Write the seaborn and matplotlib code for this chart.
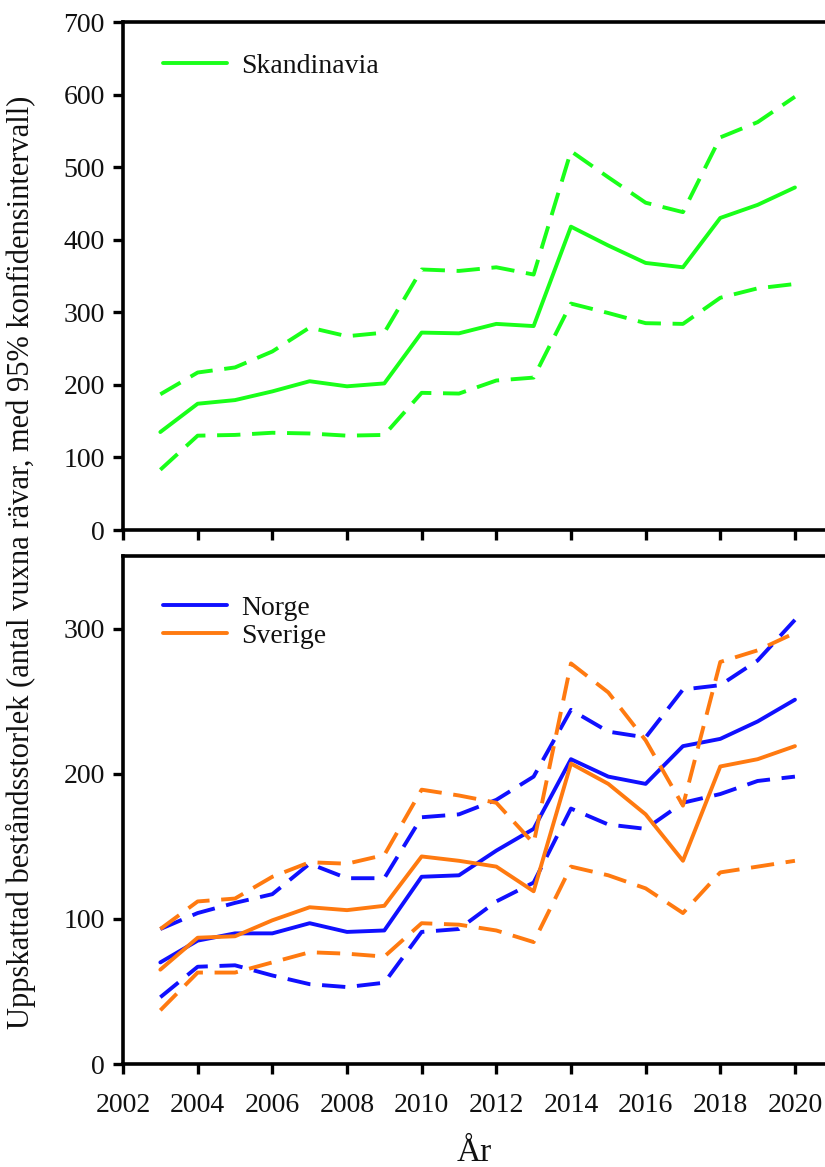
import numpy as np
import pandas as pd
import matplotlib
matplotlib.use("Agg")
import matplotlib.pyplot as plt
import seaborn as sns

years = list(range(2003, 2021))

skand_est = [135, 174, 179, 191, 205, 198, 202, 272, 271, 284, 281, 418, 392, 368, 362, 430, 448, 472]
skand_hi = [187, 217, 224, 246, 279, 267, 272, 359, 357, 362, 352, 522, 486, 451, 438, 541, 562, 597]
skand_lo = [83, 130, 131, 134, 133, 130, 131, 189, 188, 206, 210, 312, 299, 285, 284, 320, 333, 339]

norge_est = [70, 85, 90, 90, 97, 91, 92, 129, 130, 147, 162, 210, 198, 193, 219, 224, 236, 251]
norge_hi = [93, 104, 111, 117, 138, 128, 128, 170, 172, 182, 198, 244, 229, 225, 258, 261, 278, 306]
norge_lo = [46, 67, 68, 61, 55, 53, 56, 91, 93, 112, 125, 176, 165, 162, 180, 186, 195, 198]

sverige_est = [65, 87, 88, 99, 108, 106, 109, 143, 140, 136, 119, 207, 193, 172, 140, 205, 210, 219]
sverige_hi = [93, 112, 114, 129, 139, 138, 144, 189, 185, 180, 152, 276, 256, 223, 178, 277, 285, 297]
sverige_lo = [37, 63, 63, 70, 77, 76, 74, 97, 96, 92, 84, 136, 130, 121, 104, 132, 136, 140]

top_yticks = [0, 100, 200, 300, 400, 500, 600, 700]
bot_yticks = [0, 100, 200, 300]
xticks = [2002, 2004, 2006, 2008, 2010, 2012, 2014, 2016, 2018, 2020]

GREEN = "#19ff19"
BLUE = "#1010ff"
ORANGE = "#ff7a10"

sns.set_theme(style="ticks")
plt.rcParams["font.family"] = ["Liberation Serif", "DejaVu Serif"]
FS = 20

fig = plt.figure(figsize=(8.25, 11.67), dpi=100)
W, H = 825, 1167
left_px = 123
ax1 = fig.add_axes([left_px / W, 1 - 530 / H, (W - left_px) / W, (530 - 22) / H])
ax2 = fig.add_axes([left_px / W, 1 - 1064 / H, (W - left_px) / W, (1064 - 556) / H])

LW = 2.8
DASH = (6, 3)

def draw(ax, est, hi, lo, color, label):
    sns.lineplot(x=years, y=est, ax=ax, color=color, lw=LW, label=label)
    sns.lineplot(x=years, y=hi, ax=ax, color=color, lw=LW, legend=False).lines[-1].set_dashes(DASH)
    sns.lineplot(x=years, y=lo, ax=ax, color=color, lw=LW, legend=False).lines[-1].set_dashes(DASH)

draw(ax1, skand_est, skand_hi, skand_lo, GREEN, "Skandinavia")
draw(ax2, norge_est, norge_hi, norge_lo, BLUE, "Norge")
draw(ax2, sverige_est, sverige_hi, sverige_lo, ORANGE, "Sverige")

xmax = 2002 + (W - left_px) / 37.33
for ax, yt, ylim in [(ax1, top_yticks, (0, 700)), (ax2, bot_yticks, (0, 350))]:
    ax.set_xlim(2002, xmax)
    ax.set_ylim(*ylim)
    ax.set_yticks(yt)
    ax.set_xticks(xticks)
    ax.spines["right"].set_visible(False)
    for s in ["left", "bottom", "top"]:
        ax.spines[s].set_linewidth(2.6)
        ax.spines[s].set_color("black")
    ax.tick_params(axis="both", direction="out", length=7, width=2.4, color="black",
                   labelsize=FS, labelcolor="#111111")
    ax.tick_params(axis="y", pad=6)
    ax.tick_params(axis="x", pad=14)
    ax.set_xlabel("")
    ax.set_ylabel("")

ax1.tick_params(axis="x", labelbottom=False)
ax2.set_xlabel("År", fontsize=FS + 4, labelpad=14, color="#111111")

leg1 = ax1.legend(loc="center left", bbox_to_anchor=(40 / (W - left_px), (530 - 66) / 508),
                  frameon=False, fontsize=FS, handlelength=2.3, handletextpad=0.5,
                  borderpad=0, borderaxespad=0)
leg2 = ax2.legend(loc="center left", bbox_to_anchor=(40 / (W - left_px), (1064 - 622) / 508),
                  frameon=False, fontsize=FS, handlelength=2.3, handletextpad=0.5,
                  borderpad=0, borderaxespad=0, labelspacing=0.1)
for leg in (leg1, leg2):
    for t in leg.get_texts():
        t.set_color("#111111")

fig.text(21 / W, 1 - 562 / H,
         "Uppskattad beståndsstorlek (antal vuxna rävar, med 95% konfidensintervall)",
         rotation=90, ha="center", va="center", fontsize=22, color="#111111")

fig.savefig("out.png", dpi=100)
